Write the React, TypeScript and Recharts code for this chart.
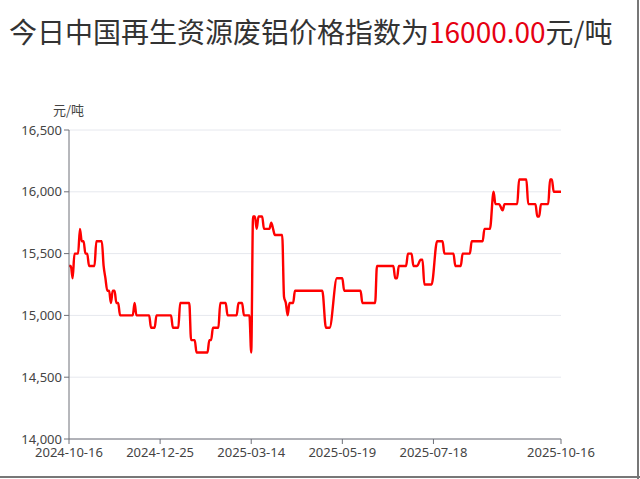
import { LineChart, Line, XAxis, YAxis, CartesianGrid } from "recharts";

// step points: trading-day index -> price (元/吨)
const dayIndex = [
  0, 1, 2, 3, 5, 6, 7, 8, 9, 10, 11, 14, 15, 18, 19, 20, 21, 22, 23, 24, 25,
  26, 27, 28, 35, 36, 37, 44, 45, 47, 48, 56, 57, 60, 61, 66, 67, 69, 70, 76,
  77, 78, 79, 82, 83, 86, 87, 92, 93, 95, 96, 99, 100, 101, 102, 103, 104, 106,
  107, 110, 111, 112, 113, 117, 118, 119, 120, 121, 123, 124, 139, 141, 143,
  147, 150, 151, 160, 161, 168, 169, 178, 179, 180, 181, 185, 186, 188, 189,
  191, 193, 194, 195, 199, 202, 205, 206, 211, 212, 215, 216, 220, 221, 227,
  228, 231, 233, 234, 236, 238, 239, 246, 247, 251, 252, 256, 257, 258, 259,
  263, 264, 265, 266, 270,
];

const price = [
  15400, 15400, 15300, 15500, 15500, 15700, 15600, 15600, 15500, 15500, 15400,
  15400, 15600, 15600, 15400, 15300, 15200, 15200, 15100, 15200, 15200, 15100,
  15100, 15000, 15000, 15100, 15000, 15000, 14900, 14900, 15000, 15000, 14900,
  14900, 15100, 15100, 14800, 14800, 14700, 14700, 14800, 14800, 14900, 14900,
  15100, 15100, 15000, 15000, 15100, 15100, 15000, 15000, 14700, 15800, 15800,
  15700, 15800, 15800, 15700, 15700, 15750, 15700, 15650, 15650, 15150, 15100,
  15000, 15100, 15100, 15200, 15200, 14900, 14900, 15300, 15300, 15200, 15200,
  15100, 15100, 15400, 15400, 15300, 15300, 15400, 15400, 15500, 15500, 15400,
  15400, 15450, 15450, 15250, 15250, 15600, 15600, 15500, 15500, 15400, 15400,
  15500, 15500, 15600, 15600, 15700, 15700, 16000, 15900, 15900, 15850, 15900,
  15900, 16100, 16100, 15900, 15900, 15800, 15800, 15900, 15900, 16100, 16100,
  16000, 16000,
];

const tickIndex = [0, 50, 100, 150, 200, 270];
const tickLabels = [
  "2024-10-16",
  "2024-12-25",
  "2025-03-14",
  "2025-05-19",
  "2025-07-18",
  "2025-10-16",
];
const yTicks = [14000, 14500, 15000, 15500, 16000, 16500];

const data = dayIndex.map((i, k) => ({ i, price: price[k] }));

const FONT = '"Noto Sans", "Noto Sans CJK SC", sans-serif';

export default function App() {
  return (
    <div
      style={{
        position: "fixed",
        left: 0,
        top: 0,
        width: 640,
        height: 479,
        background: "#fff",
        fontFamily: FONT,
        overflow: "hidden",
      }}
    >
      <div
        style={{
          position: "absolute",
          left: 9,
          top: 11,
          fontSize: 28,
          color: "#333",
          whiteSpace: "nowrap",
          fontFamily: '"Noto Sans CJK SC", sans-serif',
        }}
      >
        今日中国再生资源废铝价格指数为
        <span style={{ color: "#e60012" }}>16000.00</span>
        元/吨
      </div>
      <div
        style={{
          position: "absolute",
          left: 53,
          top: 100,
          fontSize: 13,
          color: "#444",
          fontFamily: '"Noto Sans CJK SC", sans-serif',
        }}
      >
        元/吨
      </div>
      <div style={{ position: "absolute", left: 0, top: 0 }}>
        <LineChart
          width={640}
          height={479}
          data={data}
          margin={{ top: 130, right: 79, bottom: 10, left: 0 }}
        >
          <CartesianGrid vertical={false} stroke="#e6e8ee" />
          <XAxis
            dataKey="i"
            type="number"
            domain={[0, 270]}
            ticks={tickIndex}
            tickFormatter={(v) => tickLabels[tickIndex.indexOf(v)]}
            height={30}
            stroke="#6e7079"
            tick={{ fill: "#444", fontSize: 13, fontFamily: FONT, dy: 2 }}
            tickSize={5}
            interval={0}
          />
          <YAxis
            type="number"
            domain={[14000, 16500]}
            ticks={yTicks}
            tickFormatter={(v) => v.toLocaleString("en-US")}
            width={69}
            stroke="#6e7079"
            tick={{ fill: "#444", fontSize: 13, fontFamily: FONT }}
            tickSize={5}
            interval={0}
          />
          <Line
            type="monotone"
            dataKey="price"
            stroke="#ff0000"
            strokeWidth={2.4}
            dot={false}
            isAnimationActive={false}
          />
        </LineChart>
      </div>
      <div
        style={{
          position: "absolute",
          right: 1,
          top: 0,
          width: 2,
          height: 479,
          background: "#777",
        }}
      />
      <div
        style={{
          position: "absolute",
          left: 0,
          bottom: 1,
          width: 640,
          height: 2,
          background: "#777",
        }}
      />
    </div>
  );
}
